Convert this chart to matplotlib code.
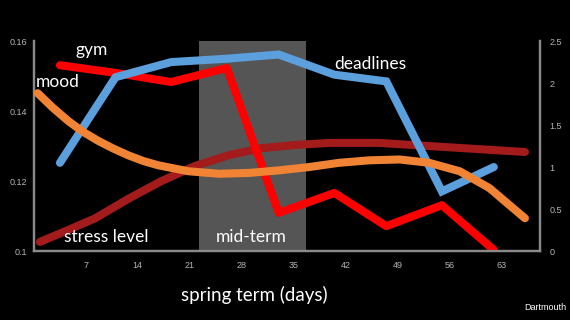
import matplotlib
matplotlib.use('Agg')
from matplotlib import pyplot as plt

# weekly points (days)
week_days = [3.5, 11, 18.5, 26, 33, 40.5, 47.5, 55, 62]
gym = [0.1531, 0.1509, 0.1483, 0.1523, 0.1109, 0.1166, 0.1071, 0.1131, 0.1003]
deadlines = [1.05, 2.07, 2.25, 2.29, 2.34, 2.10, 2.02, 0.71, 1.00]

# smooth curves
mood_days = [0.5, 2.5, 4.6, 6.6, 8.7, 10.7, 12.7, 14.8, 16.8, 20.8, 24.9, 29.0, 33.0, 37.1, 41.1, 45.2, 49.3, 53.3, 57.4, 61.4, 66.2]
mood = [1.88, 1.71, 1.55, 1.42, 1.31, 1.22, 1.14, 1.07, 1.02, 0.95, 0.92, 0.93, 0.96, 1.00, 1.05, 1.08, 1.09, 1.05, 0.95, 0.75, 0.39]
stress_days = [0.8, 4.6, 8.3, 12.7, 17.2, 21.7, 26.3, 30.7, 35.2, 39.8, 46.5, 53.3, 60.1, 66.2]
stress = [0.1026, 0.1060, 0.1094, 0.1149, 0.1200, 0.1243, 0.1274, 0.1294, 0.1303, 0.1309, 0.1309, 0.1300, 0.1291, 0.1283]

midterm = (22.2, 36.7)
x_ticks = [7, 14, 21, 28, 35, 42, 49, 56, 63]
left_ticks = [0.1, 0.12, 0.14, 0.16]
left_labels = ['0.1', '0.12', '0.14', '0.16']
right_ticks = [0, 0.5, 1, 1.5, 2, 2.5]
right_labels = ['0', '0.5', '1', '1.5', '2', '2.5']

lw = 5.8
spine_col = '#8a8a8a'
tick_col = '#b5b5b5'

fig = plt.figure(figsize=(5.7, 3.2), dpi=100, facecolor='black')
ax = fig.add_axes([0.0596, 0.2156, 0.8874, 0.656])
ax2 = ax.twinx()
ax.set_facecolor('black')
ax2.patch.set_visible(False)

ax.axvspan(midterm[0], midterm[1], color='#555555', lw=0, zorder=0)

# left axis lines
ax.plot(stress_days, stress, color='#a31b1b', lw=lw, solid_capstyle='round', zorder=2)
ax.plot(week_days, gym, color='#ff0000', lw=lw, solid_capstyle='round', zorder=3)
# right axis lines
ax2.plot(week_days, deadlines, color='#5b9fdd', lw=lw, solid_capstyle='round', solid_joinstyle='miter', zorder=2)
ax2.plot(mood_days, mood, color='#f08434', lw=lw, solid_capstyle='round', zorder=3)

ax.set_xlim(0, 68.2)
ax.set_ylim(0.1, 0.16)
ax2.set_ylim(0, 2.5)

ax.set_xticks(x_ticks)
ax.set_yticks(left_ticks)
ax.set_yticklabels(left_labels)
ax2.set_yticks(right_ticks)
ax2.set_yticklabels(right_labels)

for a in (ax, ax2):
    a.tick_params(length=0, colors=tick_col, labelsize=6.5)
    for s in a.spines.values():
        s.set_color(spine_col)
        s.set_linewidth(1.6)
    a.spines['top'].set_visible(False)
ax.tick_params(axis='x', pad=7)
ax.tick_params(axis='y', pad=5)
ax2.tick_params(axis='y', pad=7)
for lab in ax.get_xticklabels() + ax.get_yticklabels() + ax2.get_yticklabels():
    lab.set_family('Liberation Sans')

font = 'Lato'
fs = 12.5
fig.text(75 / 570, 1 - 50 / 320, 'gym', color='white', fontsize=fs, family=font, ha='left', va='center')
fig.text(36 / 570, 1 - 82 / 320, 'mood', color='white', fontsize=fs, family=font, ha='left', va='center')
fig.text(334 / 570, 1 - 64 / 320, 'deadlines', color='white', fontsize=fs, family=font, ha='left', va='center')
fig.text(64 / 570, 1 - 237 / 320, 'stress level', color='white', fontsize=fs, family=font, ha='left', va='center')
fig.text(216 / 570, 1 - 237 / 320, 'mid-term', color='white', fontsize=fs, family=font, ha='left', va='center')
fig.text(254 / 570, 1 - 295 / 320, 'spring term (days)', color='white', fontsize=13.5, family=font, ha='center', va='center')
fig.text(566 / 570, 1 - 308 / 320, 'Dartmouth', color='white', fontsize=6.5, family='Liberation Sans', ha='right', va='center')

fig.savefig('out.png', dpi=100, facecolor='black')
